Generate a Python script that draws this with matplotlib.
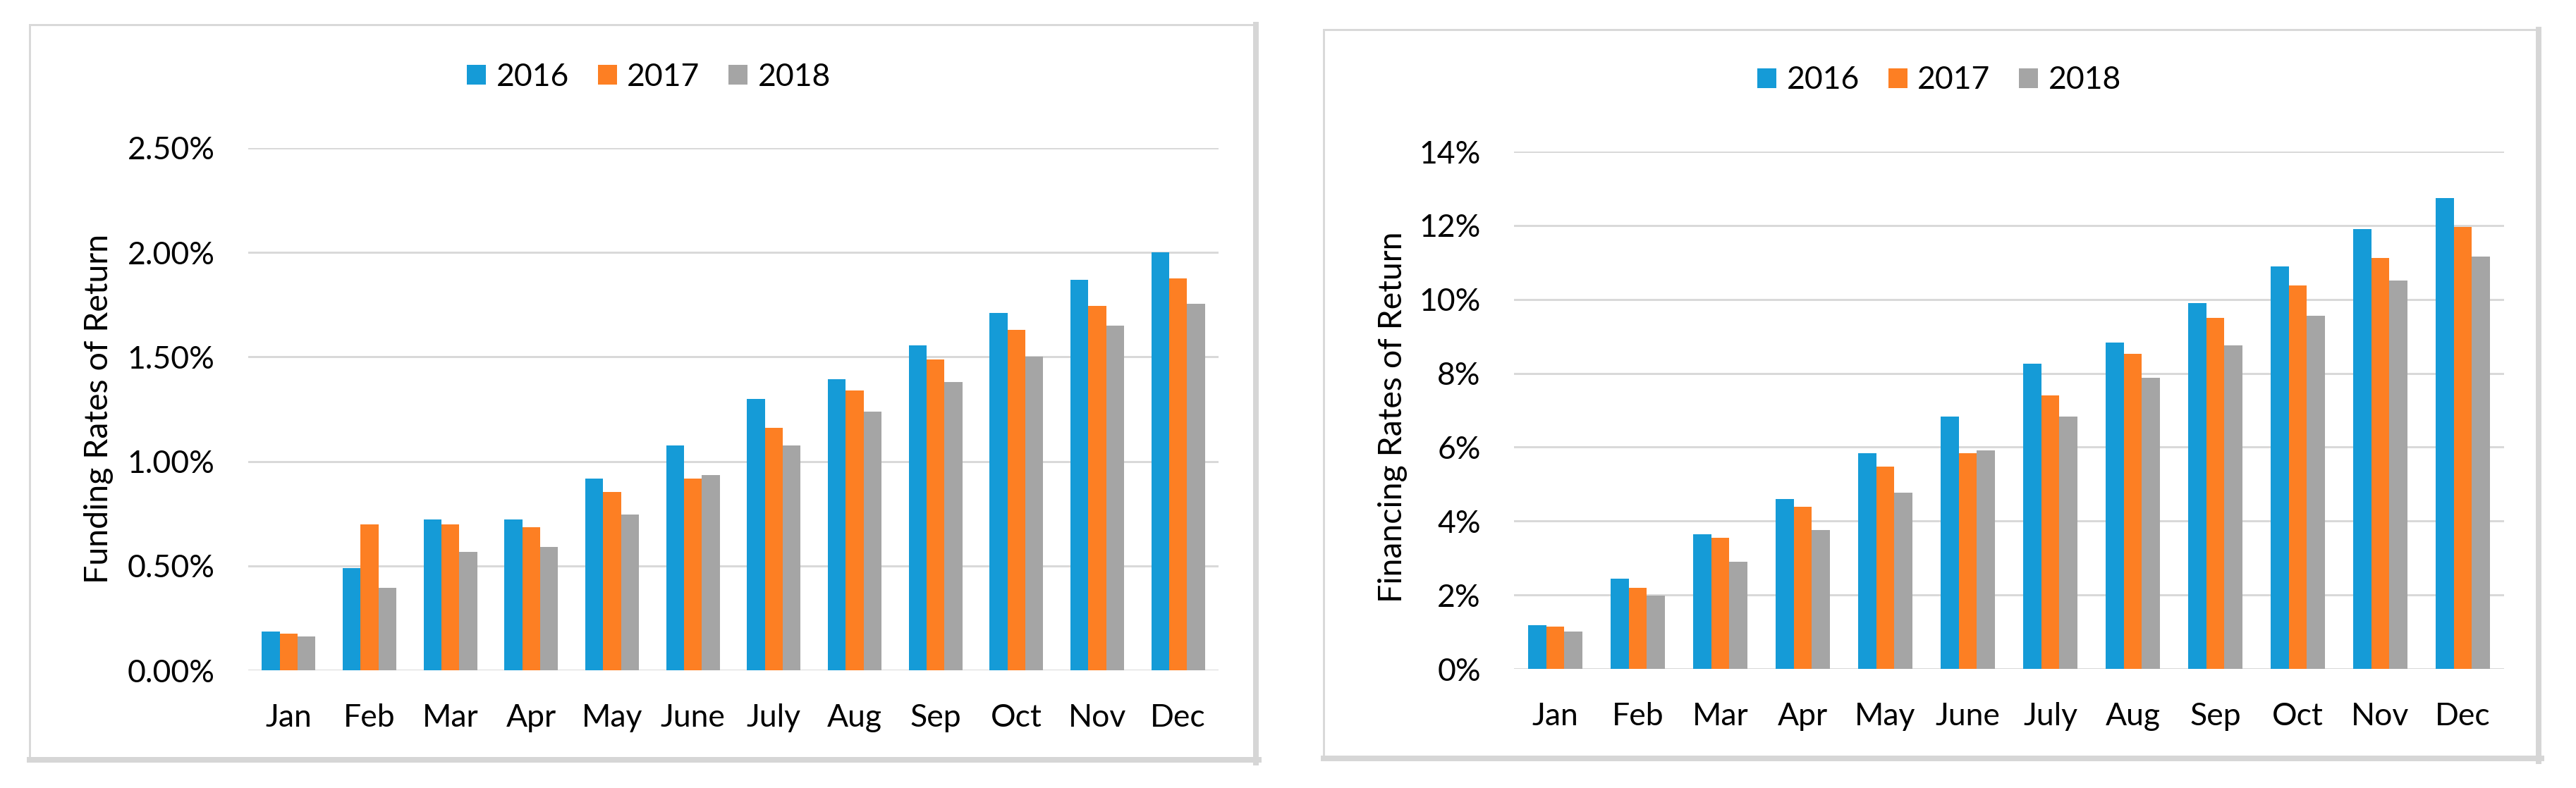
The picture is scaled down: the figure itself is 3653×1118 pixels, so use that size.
import matplotlib
matplotlib.use("Agg")
import matplotlib.pyplot as plt
import numpy as np
from matplotlib.lines import Line2D
from matplotlib.ticker import FuncFormatter, FixedLocator

months = ["Jan", "Feb", "Mar", "Apr", "May", "June", "July", "Aug", "Sep", "Oct", "Nov", "Dec"]
years = ["2016", "2017", "2018"]

funding_2016 = [0.185, 0.488, 0.722, 0.722, 0.917, 1.075, 1.299, 1.393, 1.557, 1.712, 1.870, 2.000]
funding_2017 = [0.175, 0.698, 0.698, 0.685, 0.853, 0.917, 1.159, 1.340, 1.488, 1.628, 1.745, 1.877]
funding_2018 = [0.161, 0.395, 0.567, 0.590, 0.746, 0.934, 1.075, 1.239, 1.380, 1.500, 1.650, 1.753]

financing_2016 = [1.18, 2.45, 3.64, 4.60, 5.83, 6.82, 8.26, 8.83, 9.90, 10.89, 11.91, 12.74]
financing_2017 = [1.15, 2.19, 3.54, 4.38, 5.48, 5.83, 7.40, 8.53, 9.50, 10.38, 11.12, 11.95]
financing_2018 = [1.01, 1.98, 2.89, 3.76, 4.77, 5.91, 6.82, 7.88, 8.76, 9.55, 10.51, 11.16]

funding_ticks = [0.0, 0.5, 1.0, 1.5, 2.0, 2.5]
financing_ticks = [0, 2, 4, 6, 8, 10, 12, 14]

colors = ["#159bd7", "#fd7f23", "#a5a5a5"]
grid_color = "#d9d9d9"
FONT = ["Lato", "DejaVu Sans"]

W, H = 3653, 1118
DPI = 100
fig = plt.figure(figsize=(W / DPI, H / DPI), dpi=DPI)
fig.patch.set_facecolor("white")


def fx(px):
    return px / W


def fy(py):
    return 1 - py / H


def panel_border(x0, y0, x1, y1):
    thin = 3 * 0.72
    thick = 8 * 0.72
    c1 = "#d9d9d9"
    c2 = "#d6d6d6"
    fig.add_artist(Line2D([fx(x0), fx(x1)], [fy(y0), fy(y0)], color=c1, lw=thin, transform=fig.transFigure))
    fig.add_artist(Line2D([fx(x0), fx(x0)], [fy(y0), fy(y1)], color=c1, lw=thin, transform=fig.transFigure))
    fig.add_artist(Line2D([fx(x1), fx(x1)], [fy(y0), fy(y1 + 4)], color=c2, lw=thick, transform=fig.transFigure))
    fig.add_artist(Line2D([fx(x0), fx(x1 + 4)], [fy(y1), fy(y1)], color=c2, lw=thick, transform=fig.transFigure))


def make_panel(rect, series, ticks, fmt, ylabel, ylabel_xy, legend_xy):
    ax = fig.add_axes(rect)
    x = np.arange(len(months))
    w = 0.22
    handles = []
    for i, (vals, col, yr) in enumerate(zip(series, colors, years)):
        b = ax.bar(x + (i - 1) * w, vals, width=w, color=col, linewidth=0, label=yr, zorder=3)
        handles.append(b)
    ax.set_xlim(-0.5, len(months) - 0.5)
    ax.set_ylim(ticks[0], ticks[-1])
    ax.yaxis.set_major_locator(FixedLocator(ticks))
    ax.yaxis.set_major_formatter(FuncFormatter(fmt))
    ax.set_xticks(x)
    ax.set_xticklabels(months)
    for s in ax.spines.values():
        s.set_visible(False)
    ax.grid(axis="y", color=grid_color, linewidth=3 * 0.72, zorder=0)
    ax.set_axisbelow(True)
    ax.tick_params(axis="both", length=0, labelsize=32, colors="black")
    ax.tick_params(axis="y", pad=34)
    ax.tick_params(axis="x", pad=34)
    for lab in ax.get_xticklabels() + ax.get_yticklabels():
        lab.set_family(FONT)
    ax.set_facecolor("none")
    fig.text(fx(ylabel_xy[0]), fy(ylabel_xy[1]), ylabel, rotation=90, ha="center", va="center",
             fontsize=33.5, family=FONT, color="black")
    leg = fig.legend(handles=handles, labels=years, loc="center",
                     bbox_to_anchor=(fx(legend_xy[0]), fy(legend_xy[1])),
                     bbox_transform=fig.transFigure, ncol=3, frameon=False,
                     prop={"family": FONT, "size": 32}, handlelength=0.61, handleheight=0.61,
                     handletextpad=0.32, columnspacing=0.92, borderpad=0, borderaxespad=0)
    return ax


panel_border(42, 35, 1781, 1078)
panel_border(1877, 42, 3600, 1076)

left_rect = [fx(352), fy(951), fx(1728) - fx(352), fy(210) - fy(951)]
right_rect = [fx(2147), fy(949), fx(3551) - fx(2147), fy(215) - fy(949)]

make_panel(left_rect, [funding_2016, funding_2017, funding_2018], funding_ticks,
           lambda v, p: f"{v:.2f}%", "Funding Rates of Return", (140, 580), (920, 109))
make_panel(right_rect, [financing_2016, financing_2017, financing_2018], financing_ticks,
           lambda v, p: f"{v:.0f}%", "Financing Rates of Return", (1975, 592), (2750, 114))

fig.savefig("out.png", dpi=DPI, facecolor="white")
